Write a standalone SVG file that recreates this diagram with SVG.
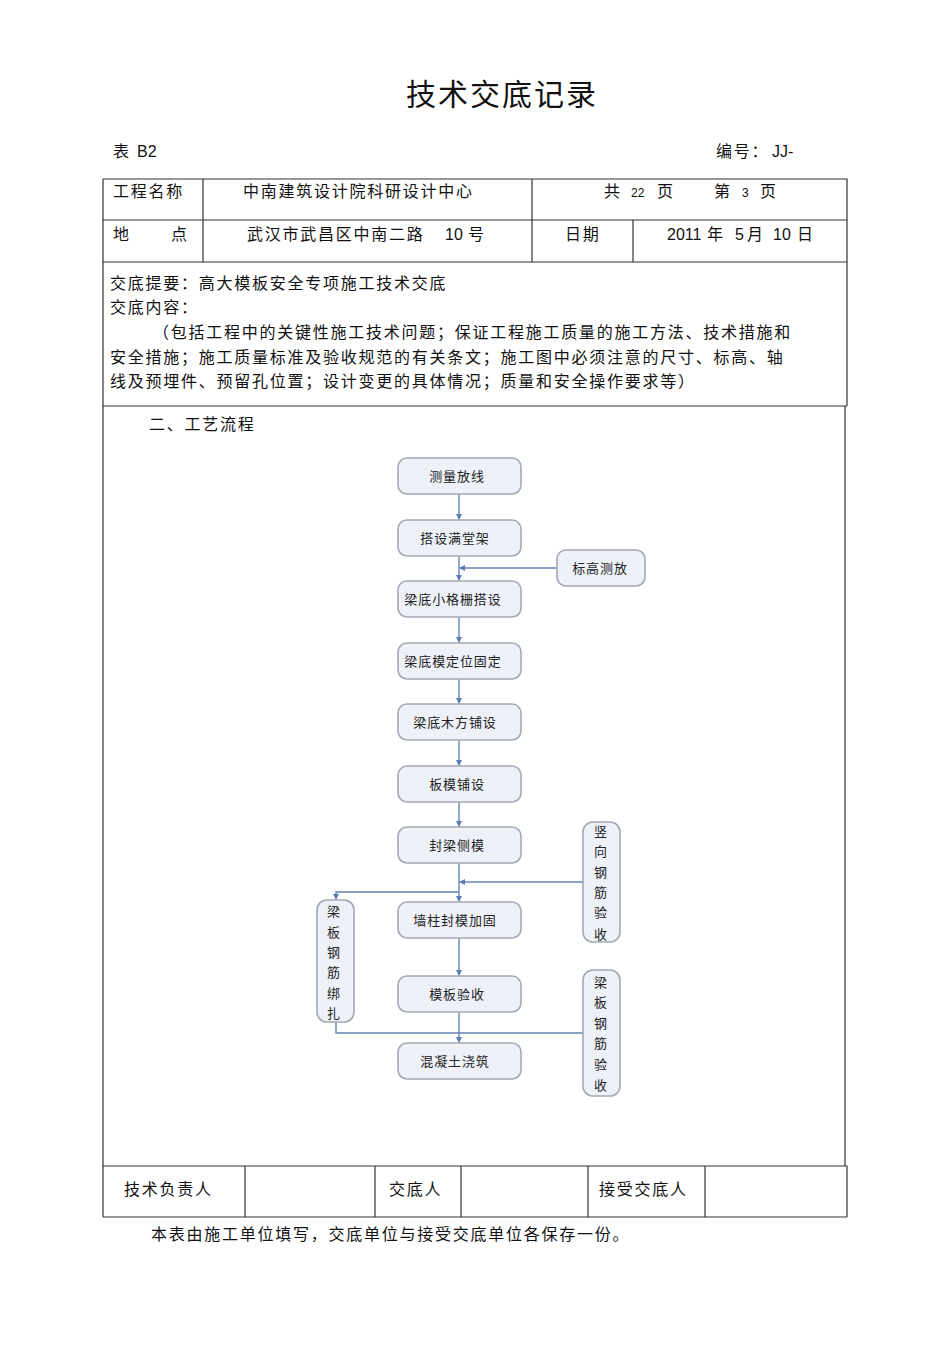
<svg xmlns="http://www.w3.org/2000/svg" width="950" height="1345" viewBox="0 0 950 1345">
<defs>
<style>
.t{font-family:"Liberation Sans","Noto Sans CJK SC",sans-serif;fill:#111;}
.f16{font-size:16px;letter-spacing:1.75px;}
.n0{letter-spacing:0;}
.tb{stroke:#333;stroke-width:1.2;fill:none;}
.nd{fill:#eef1f8;stroke:#a3a9b3;stroke-width:1.6;}
.nt{font-family:"Noto Sans CJK SC","Liberation Sans",sans-serif;font-size:13px;letter-spacing:0.9px;fill:#222;text-anchor:middle;}
.cn{stroke:#6483b6;stroke-width:1.4;fill:none;}
</style>
<marker id="ar" markerWidth="6" markerHeight="6" refX="5" refY="3" orient="auto" markerUnits="userSpaceOnUse">
<path d="M0,0 L6,3 L0,6 z" fill="#5b7bb5"/>
</marker>
</defs>
<rect width="950" height="1345" fill="#fff"/>

<g id="header">
<text class="t" x="406" y="105" font-size="30" letter-spacing="2">技术交底记录</text>
<text class="t f16" x="113" y="157">表<tspan x="137" class="n0">B2</tspan></text>
<text class="t f16" x="716" y="157">编号：<tspan x="772" class="n0">JJ-</tspan></text>
</g>

<g id="table">
<path class="tb" d="M103,179 H847 V406 M103,179 V1217 M103,220 H847 M103,262 H847 M103,406 H847 M845,406 V1166 M103,1166 H847 V1217 M103,1217 H847"/>
<path class="tb" d="M203,179 V262 M532,179 V262 M633,220 V262"/>
<path class="tb" d="M245,1166 V1217 M375,1166 V1217 M461,1166 V1217 M588,1166 V1217 M705,1166 V1217"/>
<text class="t f16" x="113" y="197">工程名称</text>
<text class="t f16" x="243" y="197">中南建筑设计院科研设计中心</text>
<text class="t f16" x="604" y="197">共<tspan x="631" font-size="12" class="n0">22</tspan><tspan x="657">页</tspan></text>
<text class="t f16" x="714" y="197">第<tspan x="742" font-size="12" class="n0">3</tspan><tspan x="760">页</tspan></text>
<text class="t f16" x="113" y="240">地</text>
<text class="t f16" x="171" y="240">点</text>
<text class="t f16" x="247" y="240">武汉市武昌区中南二路<tspan x="445" class="n0">10</tspan><tspan x="468">号</tspan></text>
<text class="t f16" x="565" y="240">日期</text>
<text class="t f16" x="667" y="240"><tspan class="n0">2011</tspan><tspan x="707">年</tspan><tspan x="735" class="n0">5</tspan><tspan x="747">月</tspan><tspan x="773" class="n0">10</tspan><tspan x="797">日</tspan></text>
<text class="t f16" x="110" y="289">交底提要：高大模板安全专项施工技术交底</text>
<text class="t f16" x="110" y="313">交底内容：</text>
<text class="t f16" x="153" y="338">（包括工程中的关键性施工技术问题；保证工程施工质量的施工方法、技术措施和</text>
<text class="t f16" x="110" y="363">安全措施；施工质量标准及验收规范的有关条文；施工图中必须注意的尺寸、标高、轴</text>
<text class="t f16" x="110" y="387">线及预埋件、预留孔位置；设计变更的具体情况；质量和安全操作要求等）</text>
<text class="t f16" x="149" y="430">二、工艺流程</text>
<text class="t f16" x="124" y="1195">技术负责人</text>
<text class="t f16" x="389" y="1195">交底人</text>
<text class="t f16" x="599" y="1195">接受交底人</text>
<text class="t f16" x="151" y="1240">本表由施工单位填写，交底单位与接受交底单位各保存一份。</text>
</g>

<g id="connectors">
<line class="cn" x1="459" y1="494" x2="459" y2="519" marker-end="url(#ar)"/>
<line class="cn" x1="459" y1="556" x2="459" y2="580" marker-end="url(#ar)"/>
<line class="cn" x1="557" y1="568" x2="460" y2="568" marker-end="url(#ar)"/>
<line class="cn" x1="459" y1="617" x2="459" y2="642" marker-end="url(#ar)"/>
<line class="cn" x1="459" y1="679" x2="459" y2="703" marker-end="url(#ar)"/>
<line class="cn" x1="459" y1="740" x2="459" y2="765" marker-end="url(#ar)"/>
<line class="cn" x1="459" y1="802" x2="459" y2="826" marker-end="url(#ar)"/>
<line class="cn" x1="459" y1="863" x2="459" y2="901" marker-end="url(#ar)"/>
<line class="cn" x1="583" y1="882" x2="460" y2="882" marker-end="url(#ar)"/>
<polyline class="cn" points="459,892 336,892 336,899" marker-end="url(#ar)"/>
<line class="cn" x1="459" y1="938" x2="459" y2="975" marker-end="url(#ar)"/>
<line class="cn" x1="459" y1="1012" x2="459" y2="1042" marker-end="url(#ar)"/>
<polyline class="cn" points="336,1022 336,1033 583,1033"/>
</g>

<g id="n1"><rect class="nd" x="398" y="458" width="123" height="36" rx="9"/><text class="nt" x="457" y="481">测量放线</text></g>
<g id="n2"><rect class="nd" x="398" y="520" width="123" height="36" rx="9"/><text class="nt" x="455" y="543">搭设满堂架</text></g>
<g id="n3"><rect class="nd" x="398" y="581" width="123" height="36" rx="9"/><text class="nt" x="453" y="604">梁底小格栅搭设</text></g>
<g id="n4"><rect class="nd" x="398" y="643" width="123" height="36" rx="9"/><text class="nt" x="453" y="666">梁底模定位固定</text></g>
<g id="n5"><rect class="nd" x="398" y="704" width="123" height="36" rx="9"/><text class="nt" x="455" y="727">梁底木方铺设</text></g>
<g id="n6"><rect class="nd" x="398" y="766" width="123" height="36" rx="9"/><text class="nt" x="457" y="789">板模铺设</text></g>
<g id="n7"><rect class="nd" x="398" y="827" width="123" height="36" rx="9"/><text class="nt" x="457" y="850">封梁侧模</text></g>
<g id="n8"><rect class="nd" x="398" y="902" width="123" height="36" rx="9"/><text class="nt" x="455" y="925">墙柱封模加固</text></g>
<g id="n9"><rect class="nd" x="398" y="976" width="123" height="36" rx="9"/><text class="nt" x="457" y="999">模板验收</text></g>
<g id="n10"><rect class="nd" x="398" y="1043" width="123" height="36" rx="9"/><text class="nt" x="455" y="1066">混凝土浇筑</text></g>
<g id="n11"><rect class="nd" x="557" y="550" width="88" height="36" rx="9"/><text class="nt" x="600" y="573">标高测放</text></g>
<g id="n12"><rect class="nd" x="583" y="822" width="37" height="120" rx="10"/>
<text class="nt" x="601" y="836">竖</text><text class="nt" x="601" y="856">向</text><text class="nt" x="601" y="877">钢</text><text class="nt" x="601" y="897">筋</text><text class="nt" x="601" y="917">验</text><text class="nt" x="601" y="939">收</text></g>
<g id="n13"><rect class="nd" x="317" y="900" width="37" height="122" rx="10"/>
<text class="nt" x="334" y="916">梁</text><text class="nt" x="334" y="937">板</text><text class="nt" x="334" y="957">钢</text><text class="nt" x="334" y="977">筋</text><text class="nt" x="334" y="998">绑</text><text class="nt" x="334" y="1018">扎</text></g>
<g id="n14"><rect class="nd" x="583" y="970" width="37" height="126" rx="10"/>
<text class="nt" x="601" y="987">梁</text><text class="nt" x="601" y="1007">板</text><text class="nt" x="601" y="1028">钢</text><text class="nt" x="601" y="1048">筋</text><text class="nt" x="601" y="1069">验</text><text class="nt" x="601" y="1090">收</text></g>
</svg>
